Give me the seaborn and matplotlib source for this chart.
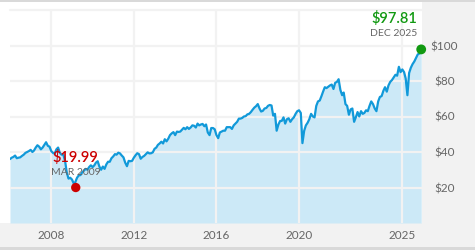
import numpy as np
import pandas as pd
import matplotlib
matplotlib.use("Agg")
import matplotlib.pyplot as plt
from matplotlib.patches import Rectangle
import seaborn as sns

# ---- data (monthly, Jan 2006 - Dec 2025) ----
start_month = "2006-01-01"
end_month = "2025-12-01"
prices = [
    # 2006
    36.0, 36.8, 37.2, 38.0, 36.5, 36.8, 37.0, 37.8, 38.5, 39.5, 40.0, 40.5,
    # 2007
    41.2, 40.0, 40.8, 42.5, 43.8, 43.0, 41.5, 42.5, 44.0, 45.5, 43.5, 43.0,
    # 2008
    40.5, 39.5, 39.0, 41.5, 42.5, 39.5, 38.5, 38.5, 35.0, 28.5, 25.0, 25.5,
    # 2009
    24.5, 22.3, 23.0, 25.5, 26.8, 27.0, 28.5, 29.5, 30.5, 30.0, 31.5, 32.5,
    # 2010
    31.5, 32.5, 34.0, 34.8, 31.8, 30.0, 31.8, 30.5, 33.0, 34.5, 34.5, 36.5,
    # 2011
    37.5, 38.8, 38.5, 39.6, 39.2, 38.0, 37.0, 34.0, 32.0, 35.0, 34.8, 35.0,
    # 2012
    36.8, 38.2, 39.3, 38.8, 36.2, 37.2, 37.8, 38.8, 39.8, 39.2, 39.3, 39.8,
    # 2013
    41.8, 42.5, 44.0, 44.8, 45.8, 44.8, 47.2, 46.0, 47.5, 49.5, 50.5, 51.2,
    # 2014
    49.5, 51.5, 51.3, 51.5, 52.5, 53.6, 52.8, 54.0, 53.0, 53.8, 55.0, 54.8,
    # 2015
    53.8, 56.0, 55.0, 55.5, 55.8, 54.5, 55.5, 51.0, 49.5, 53.5, 53.5, 52.8,
    # 2016
    49.5, 47.8, 51.0, 51.5, 52.0, 52.0, 54.0, 54.0, 54.0, 53.0, 55.0, 56.0,
    # 2017
    57.0, 58.8, 58.8, 59.2, 60.0, 60.2, 61.2, 61.5, 62.5, 63.8, 65.0, 65.8,
    # 2018
    67.0, 64.5, 62.8, 63.2, 64.5, 64.8, 66.0, 66.5, 66.2, 60.5, 61.5, 52.0,
    # 2019
    55.5, 57.5, 57.5, 59.5, 56.0, 58.5, 59.0, 57.0, 58.5, 59.5, 61.5, 63.0,
    # 2020
    63.5, 62.0, 45.0, 52.0, 55.0, 56.5, 58.5, 61.5, 60.0, 59.5, 66.0, 68.5,
    # 2021
    69.0, 71.5, 74.0, 76.5, 76.0, 76.8, 77.5, 78.0, 75.5, 79.0, 79.5, 81.0,
    # 2022
    75.0, 72.0, 73.5, 67.0, 66.0, 61.0, 64.0, 64.5, 57.0, 59.5, 62.5, 60.0,
    # 2023
    63.0, 61.5, 62.0, 63.5, 63.0, 66.0, 68.5, 67.0, 64.5, 63.0, 68.5, 71.0,
    # 2024
    71.5, 74.5, 76.5, 74.0, 77.5, 79.5, 80.5, 82.0, 83.5, 83.0, 88.0, 85.0,
    # 2025
    86.5, 85.0, 81.5, 72.0, 84.5, 87.5, 89.5, 91.0, 93.0, 95.0, 95.5, 97.81,
]
low_date = ["2009-03-09"]
low_value = [19.99]
low_label = ["MAR 2009"]
high_date = ["2025-12-01"]
high_value = [97.81]
high_label = ["DEC 2025"]
year_ticks = [2008, 2012, 2016, 2020, 2025]
price_ticks = [20, 40, 60, 80, 100]

dates = pd.date_range(start_month, end_month, freq="MS")
df = pd.DataFrame({"date": dates, "price": prices})

# ---- styling ----
sns.set_theme(style="white")
plt.rcParams["font.family"] = ["Lato", "DejaVu Sans"]

W, H = 475, 250
fig = plt.figure(figsize=(W / 100, H / 100), dpi=100, facecolor="white")

def fx(px):
    return px / W

def fy(py):
    return 1 - py / H

# background bands
band = "#f2f2f2"
dark = "#d9d9d9"
for rect in [
    ((0, fy(247)), 1, fy(223) - fy(247), band),
    ((0, 0), 1, fy(247), dark),
    ((0, fy(2)), 1, 1 - fy(2), dark),
    ((fx(422), fy(223)), 1 - fx(422), fy(2) - fy(223), band),
]:
    fig.patches.append(Rectangle(rect[0], rect[1], rect[2], transform=fig.transFigure,
                                 facecolor=rect[3], edgecolor="none", zorder=-10))

ax = fig.add_axes([fx(10), fy(223), fx(412), (223 - 10) / H])
ax.set_facecolor("none")
ax.set_zorder(1)

line_color = "#1199d9"
fill_color = "#cce9f7"
grid_color = "#f2f2f2"

ax.fill_between(df["date"], df["price"], 0, color=fill_color, linewidth=0, zorder=1)
sns.lineplot(data=df, x="date", y="price", ax=ax, color=line_color, linewidth=1.6, zorder=3)

# low / high markers
low_df = pd.DataFrame({"date": pd.to_datetime(low_date), "price": low_value})
high_df = pd.DataFrame({"date": pd.to_datetime(high_date), "price": high_value})
sns.scatterplot(data=low_df, x="date", y="price", ax=ax, color="#cc0000", s=45,
                edgecolor="none", zorder=5, clip_on=False)
sns.scatterplot(data=high_df, x="date", y="price", ax=ax, color="#119911", s=50,
                edgecolor="none", zorder=5, clip_on=False)

ax.annotate(f"${low_value[0]:.2f}", (low_df["date"][0], low_value[0]),
            xytext=(0, 30), textcoords="offset pixels", ha="center", va="center",
            color="#cc0000", fontsize=10.5, fontweight="semibold", zorder=6)
ax.annotate(low_label[0], (low_df["date"][0], low_value[0]),
            xytext=(0, 15.5), textcoords="offset pixels", ha="center", va="center",
            color="#666666", fontsize=7.5, zorder=6)
ax.annotate(f"${high_value[0]:.2f}", (high_df["date"][0], high_value[0]),
            xytext=(-4, 31), textcoords="offset pixels", ha="right", va="center",
            color="#119911", fontsize=10.5, fontweight="semibold", zorder=6, annotation_clip=False)
ax.annotate(high_label[0], (high_df["date"][0], high_value[0]),
            xytext=(-4, 16), textcoords="offset pixels", ha="right", va="center",
            color="#666666", fontsize=7.5, zorder=6, annotation_clip=False)

# axes limits / ticks
ax.set_xlim(pd.Timestamp("2006-01-01"), pd.Timestamp("2025-12-15"))
ax.set_ylim(0, 120)
ax.set_xticks([pd.Timestamp(f"{y}-01-01") for y in year_ticks])
ax.set_xticklabels([str(y) for y in year_ticks])
ax.set_yticks(price_ticks)
ax.set_yticklabels([f"${v}" for v in price_ticks])
ax.yaxis.tick_right()
ax.tick_params(axis="both", length=0, labelcolor="#666666", labelsize=8.5)
ax.tick_params(axis="x", pad=5)
ax.tick_params(axis="y", pad=16)
for lab in ax.get_yticklabels():
    lab.set_horizontalalignment("center")

ax.set_axisbelow(False)
ax.grid(True, color=grid_color, linewidth=1.6, zorder=2)
ax.axhline(120, color=grid_color, linewidth=1.6, zorder=2, clip_on=False)
for s in ax.spines.values():
    s.set_visible(False)
ax.set_xlabel("")
ax.set_ylabel("")

fig.savefig("out.png", dpi=100, facecolor=fig.get_facecolor())
